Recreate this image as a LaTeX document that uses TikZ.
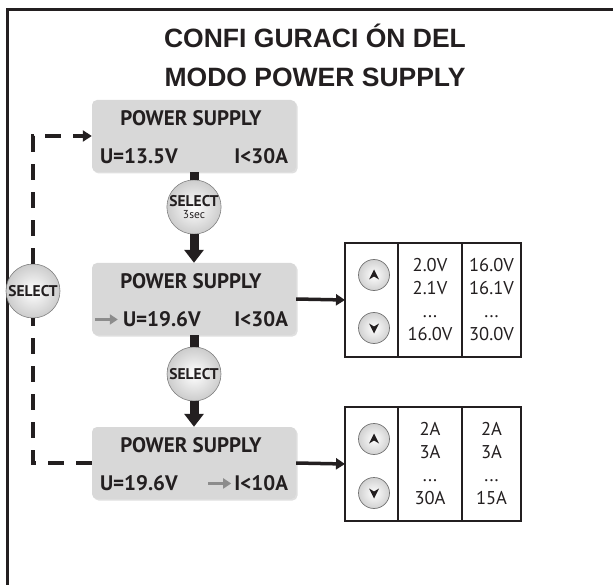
\documentclass[tikz,border=0pt]{standalone}
\usepackage{fontspec}
\setsansfont{PT Sans}
\newfontfamily\headfont{Liberation Sans}
\usetikzlibrary{positioning,arrows.meta,shadows}
\definecolor{lcdgray}{HTML}{D8D8D8}
\definecolor{ink}{HTML}{231F20}

\begin{document}
\begin{tikzpicture}[
  x=1pt, y=-1pt,
  font=\sffamily,
  head/.style={font=\headfont\bfseries\fontsize{26.5}{30}\selectfont, text=ink, anchor=base, inner sep=0pt},
  lcd/.style={fill=lcdgray, rounded corners=5pt, minimum width=204pt, minimum height=72pt, inner sep=0pt,
    drop shadow={shadow xshift=1.5pt, shadow yshift=-1.5pt, opacity=0.25}},
  lcdtxt/.style={font=\sffamily\bfseries\fontsize{21}{21}\selectfont, text=ink, inner sep=0pt},
  selbtn/.style={circle, minimum size=54pt, inner sep=0pt, draw=black!50, line width=0.6pt,
    inner color=white, outer color=black!20, align=center, text=ink,
    font=\sffamily\bfseries\fontsize{15.5}{13}\selectfont},
  btn/.style={circle, minimum size=31pt, inner sep=0pt, draw=black!55, line width=0.7pt,
    inner color=white, outer color=black!18},
  upbtn/.style={btn, path picture={\fill[ink, shift={(path picture bounding box.center)}]
    (0,-5.5) -- (5,4.5) -- (0,1.5) -- (-5,4.5) -- cycle;}},
  dnbtn/.style={btn, path picture={\fill[ink, shift={(path picture bounding box.center)}]
    (0,5.5) -- (5,-4.5) -- (0,-1.5) -- (-5,-4.5) -- cycle;}},
  cell/.style={draw=ink, line width=1.5pt, outer sep=0pt, minimum height=114pt, inner sep=0pt,
    align=center, text=ink, font=\sffamily\fontsize{18.5}{23}\selectfont},
  selflow/.style={line width=9pt, draw=ink},
  seltip/.style={selflow, -{Triangle[width=19pt,length=13pt]}},
  loopline/.style={line width=4.5pt, draw=ink, dash pattern=on 16pt off 12pt},
  sidearrow/.style={line width=3.5pt, draw=ink, -{Triangle[width=11pt,length=9pt]}},
  garrow/.style={line width=3.5pt, draw=black!45, -{Triangle[width=10pt,length=8pt]}}
]
  \useasboundingbox (0,0) rectangle (613,585);
  \draw[line width=3pt, ink] (7.3,585) -- (7.3,9.3) -- (613,9.3);

  % title
  \node[head] (head1) at (315,48) {CONFI GURACI ÓN DEL};
  \node[head] (head2) at (315,87) {MODO POWER SUPPLY};

  % displays
  \node[lcd] (box1) at (194,136) {};
  \node[lcd] (box2) at (194,299) {};
  \node[lcd] (box3) at (194,463) {};

  \node[lcdtxt, anchor=base] (b1name) at ([xshift=-3pt, yshift=-26pt]box1.north) {POWER SUPPLY};
  \node[lcdtxt, anchor=base west] (b1u) at ([xshift=8pt, yshift=-64pt]box1.north west) {U=13.5V};
  \node[lcdtxt, anchor=base east] (b1i) at ([xshift=-8pt, yshift=-64pt]box1.north east) {I<30A};

  \node[lcdtxt, anchor=base] (b2name) at ([xshift=-3pt, yshift=-26pt]box2.north) {POWER SUPPLY};
  \node[lcdtxt, anchor=base west] (b2u) at ([xshift=31pt, yshift=-64pt]box2.north west) {U=19.6V};
  \node[lcdtxt, anchor=base east] (b2i) at ([xshift=-8pt, yshift=-64pt]box2.north east) {I<30A};
  \draw[garrow] ([xshift=-28pt]b2u.west) -- ([xshift=-5pt]b2u.west);

  \node[lcdtxt, anchor=base] (b3name) at ([xshift=-3pt, yshift=-26pt]box3.north) {POWER SUPPLY};
  \node[lcdtxt, anchor=base west] (b3u) at ([xshift=8pt, yshift=-64pt]box3.north west) {U=19.6V};
  \node[lcdtxt, anchor=base east] (b3i) at ([xshift=-8pt, yshift=-64pt]box3.north east) {I<10A};
  \draw[garrow] ([xshift=-26pt]b3i.west) -- ([xshift=-3pt]b3i.west);

  % select keys
  \node[selbtn] (sel1) at (194,207) {SELECT\\[-1pt]{\mdseries\fontsize{11.5}{10}\selectfont 3sec}};
  \node[selbtn] (sel2) at (194,374) {SELECT};
  \node[selbtn] (selL) at (33,291) {SELECT};

  \draw[selflow] (box1.south) -- (sel1.north);
  \draw[seltip] (sel1.south) -- (box2.north);
  \draw[selflow] (box2.south) -- (sel2.north);
  \draw[seltip] (sel2.south) -- (box3.north);

  \draw[loopline] (box3.west) -| (selL.south);
  \draw[loopline, -{Triangle[width=11pt,length=9pt]}] (selL.north) |- (box1.west);

  % voltage table
  \node[cell, minimum width=53pt] (t1a) at (371.5,300) {};
  \node[cell, minimum width=64pt, right=0pt of t1a] (t1b) {2.0V\\2.1V\\...\\16.0V};
  \node[cell, minimum width=59pt, right=0pt of t1b] (t1c) {16.0V\\16.1V\\...\\30.0V};
  \node[upbtn] (t1up) at (374,275) {};
  \node[dnbtn] (t1dn) at (374,328) {};

  % current table
  \node[cell, minimum width=53pt] (t2a) at (371.5,464) {};
  \node[cell, minimum width=64pt, right=0pt of t2a] (t2b) {2A\\3A\\...\\30A};
  \node[cell, minimum width=59pt, right=0pt of t2b] (t2c) {2A\\3A\\...\\15A};
  \node[upbtn] (t2up) at (374,439) {};
  \node[dnbtn] (t2dn) at (374,493) {};

  \draw[sidearrow] (box2.east) -- (t1a.west);
  \draw[sidearrow] (box3.east) -- (t2a.west);
\end{tikzpicture}
\end{document}
